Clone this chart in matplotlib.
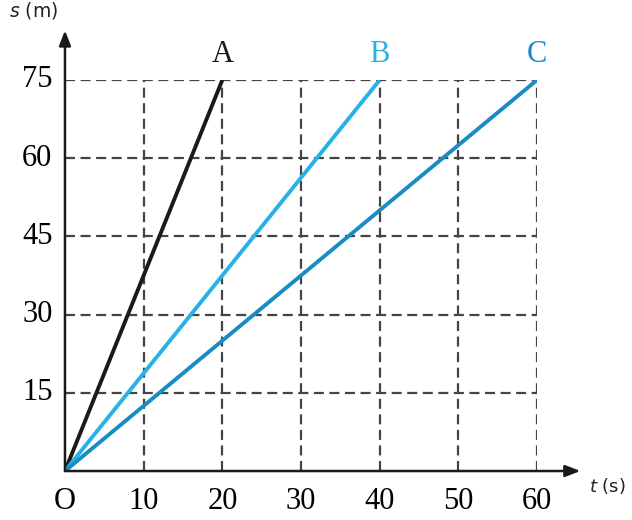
import matplotlib
matplotlib.use("Agg")
import matplotlib.pyplot as plt

# data: distance-time lines
t_A = [0, 20]
s_A = [0, 75]
t_B = [0, 40]
s_B = [0, 75]
t_C = [0, 60]
s_C = [0, 75]
line_names = ["A", "B", "C"]
line_colors = ["#1a1a1a", "#27b1e6", "#1a8cc4"]

x_ticks = [10, 20, 30, 40, 50, 60]
y_ticks = [15, 30, 45, 60, 75]

fig = plt.figure(figsize=(6.32, 5.2), dpi=100)
ax = fig.add_axes([0.1028, 0.0942, 0.747, 0.752])

serif = ["Liberation Serif", "DejaVu Serif"]

# dashed grid
for x in x_ticks:
    ax.plot([x, x], [0, 75], color="#444444", lw=1.6, ls=(0, (4.5, 2.5)), zorder=1)
for y in y_ticks:
    ax.plot([0, 60], [y, y], color="#444444", lw=1.6, ls=(0, (4.5, 2.5)), zorder=1)

# lines
for t, s, name, c in zip([t_A, t_B, t_C], [s_A, s_B, s_C], line_names, line_colors):
    ax.plot(t, s, color=c, lw=2.8, solid_capstyle="butt", zorder=3)
    ax.text(t[-1], s[-1] + 2.2, name, color=c, ha="center", va="bottom",
            fontsize=22, family=serif)

ax.set_xlim(0, 60)
ax.set_ylim(0, 75)
for sp in ax.spines.values():
    sp.set_visible(False)
ax.set_xticks([])
ax.set_yticks([])

# axes with arrows
ax.annotate("", xy=(65.5, 0), xytext=(0, 0), annotation_clip=False,
            arrowprops=dict(arrowstyle="-|>,head_length=0.9,head_width=0.35",
                            color="#1a1a1a", lw=1.8, shrinkA=0, shrinkB=0))
ax.annotate("", xy=(0, 84.5), xytext=(0, 0), annotation_clip=False,
            arrowprops=dict(arrowstyle="-|>,head_length=0.9,head_width=0.35",
                            color="#1a1a1a", lw=1.8, shrinkA=0, shrinkB=0))

# tick labels
for x in x_ticks:
    ax.text(x, -3.0, str(x), ha="center", va="top", fontsize=22, family=serif)
ax.text(0, -3.0, "O", ha="center", va="top", fontsize=22, family=serif)
for y in y_ticks:
    ax.text(-1.6, y, str(y), ha="right", va="center", fontsize=22, family=serif)

# axis labels
ax.text(66.6, -1.0, r"$t$ (s)", ha="left", va="top", fontsize=13, color="#222222")
ax.text(-4.0, 86.3, r"$s$ (m)", ha="center", va="bottom", fontsize=13.5, color="#222222")

fig.savefig("out.png", dpi=100)
